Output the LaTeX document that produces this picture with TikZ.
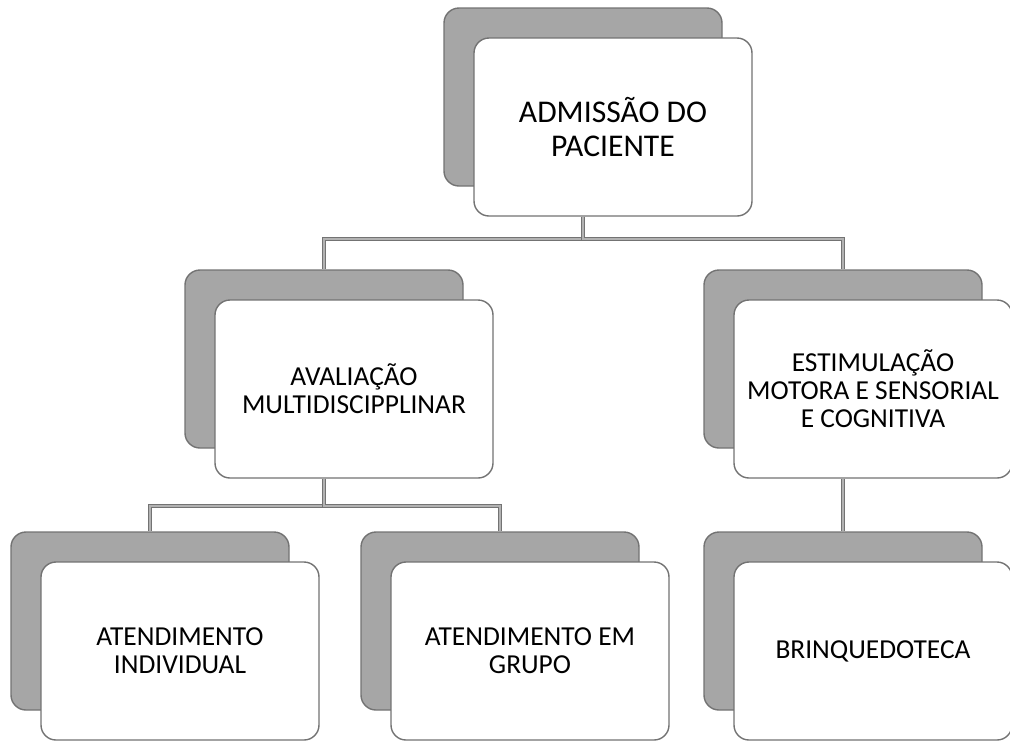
\documentclass[tikz,border=0pt]{standalone}
\usepackage{fontspec}
\setmainfont{Carlito}
\begin{document}
\begin{tikzpicture}[
	back/.style={rectangle, rounded corners=0.15cm, draw=black!55, fill=black!35, minimum width=2.78cm, minimum height=1.78cm},
	front/.style={rectangle, rounded corners=0.15cm, draw=black!55, fill=white, minimum width=2.78cm, minimum height=1.78cm, align=center, font=\fontsize{7.8}{8}\selectfont, xshift=0.3cm, yshift=-0.3cm},
	link/.style={draw=black!55, line width=0.3pt, double=black!30, double distance=0.5pt}]
	\useasboundingbox (0,0) rectangle (10.10,-7.41);
	\node (ADMg)  at (5.83, -0.97)	[back]	{};
	\node (ADM)   at (ADMg)		[front, font=\fontsize{9}{9.7}\selectfont]	{ADMISSÃO DO\\PACIENTE};
	\node (AVALg) at (3.24, -3.59)	[back]	{};
	\node (AVAL)  at (AVALg)	[front]	{AVALIAÇÃO\\MULTIDISCIPPLINAR};
	\node (ESTg)  at (8.43, -3.59)	[back]	{};
	\node (EST)   at (ESTg)		[front]	{ESTIMULAÇÃO\\MOTORA E SENSORIAL\\E COGNITIVA};
	\node (INDg)  at (1.50, -6.21)	[back]	{};
	\node (IND)   at (INDg)		[front]	{ATENDIMENTO\\INDIVIDUAL};
	\node (GRPg)  at (5.00, -6.21)	[back]	{};
	\node (GRP)   at (GRPg)		[front]	{ATENDIMENTO EM\\GRUPO};
	\node (BRQg)  at (8.43, -6.21)	[back]	{};
	\node (BRQ)   at (BRQg)		[front]	{BRINQUEDOTECA};
	\draw[link] (ADMg.south |- ADM.south) -- ++(0,-0.22) -| (AVALg.north);
	\draw[link] (ADMg.south |- ADM.south) -- ++(0,-0.22) -| (ESTg.north);
	\draw[link] (AVALg.south |- AVAL.south) -- ++(0,-0.27) -| (INDg.north);
	\draw[link] (AVALg.south |- AVAL.south) -- ++(0,-0.27) -| (GRPg.north);
	\draw[link] (ESTg.south |- EST.south) -- (BRQg.north);
\end{tikzpicture}
\end{document}
